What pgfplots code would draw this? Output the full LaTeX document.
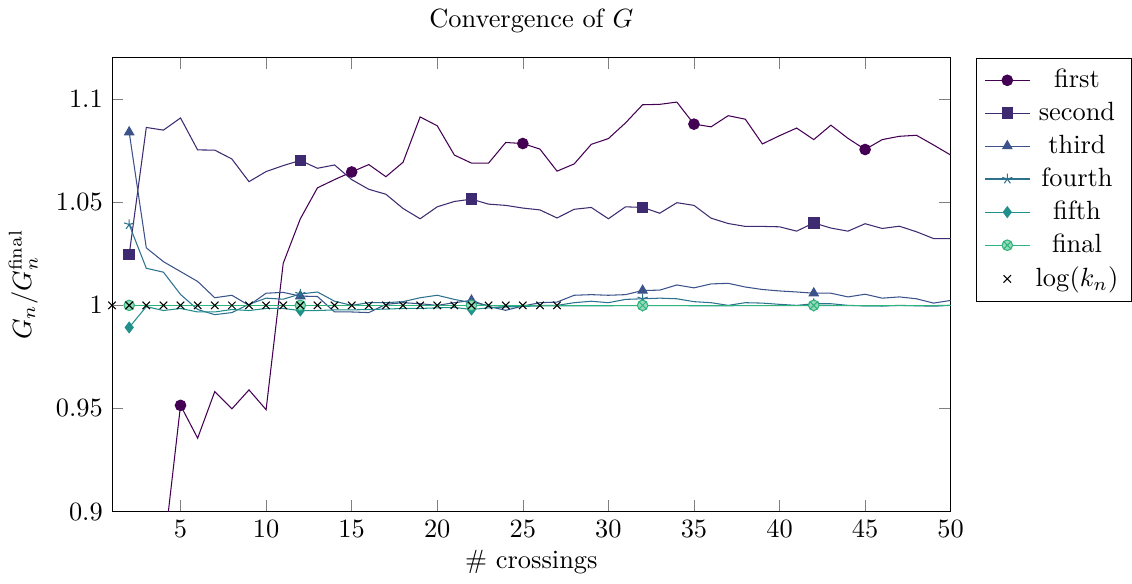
\documentclass[border=0pt]{standalone}
\usepackage{pgfplots}
\pgfplotsset{compat=1.18}
\usepackage{pgfplotstable}
\definecolor{c1}{HTML}{440154}
\definecolor{c2}{HTML}{3E2A70}
\definecolor{c3}{HTML}{3B528B}
\definecolor{c4}{HTML}{2C728E}
\definecolor{c5}{HTML}{21908D}
\definecolor{c6}{HTML}{2FB47C}

\pgfplotstableread{
x y
4 0.879
5 0.9515
6 0.9356
7 0.9582
8 0.9498
9 0.959
10 0.9494
11 1.0204
12 1.042
13 1.057
14 1.061
15 1.0647
16 1.0683
17 1.0624
18 1.0694
19 1.0914
20 1.0871
21 1.0729
22 1.069
23 1.069
24 1.079
25 1.0785
26 1.0758
27 1.0651
28 1.0686
29 1.0781
30 1.0809
31 1.0885
32 1.0973
33 1.0975
34 1.0986
35 1.0879
36 1.0866
37 1.092
38 1.0903
39 1.0783
40 1.0823
41 1.086
42 1.0804
43 1.0874
44 1.081
45 1.0756
46 1.0804
47 1.082
48 1.0825
49 1.0778
50 1.0729
}\first

\pgfplotstableread{
x y
2 1.0246
3 1.0863
4 1.085
5 1.0909
6 1.0754
7 1.0753
8 1.071
9 1.060
10 1.0649
11 1.0678
12 1.0703
13 1.0665
14 1.0681
15 1.061
16 1.0563
17 1.0539
18 1.047
19 1.042
20 1.0478
21 1.0504
22 1.0515
23 1.0491
24 1.0485
25 1.0472
26 1.0463
27 1.0424
28 1.0466
29 1.0475
30 1.042
31 1.0478
32 1.0475
33 1.0447
34 1.0498
35 1.0485
36 1.0423
37 1.0397
38 1.0383
39 1.0383
40 1.0381
41 1.036
42 1.040
43 1.0375
44 1.036
45 1.0396
46 1.0373
47 1.0384
48 1.0357
49 1.0324
50 1.0324
}\second

\pgfplotstableread{
x y
2 1.084
3 1.0279
4 1.0212
5 1.0164
6 1.0116
7 1.0037
8 1.0049
9 1.0
10 1.0059
11 1.0063
12 1.0045
13 1.0043
14 0.9968
15 0.9968
16 0.9965
17 1.0005
18 1.0013
19 1.0008
20 1.0
21 1.0013
22 1.0024
23 0.9995
24 0.9976
25 0.9997
26 1.0013
27 1.0016
28 1.0049
29 1.0052
30 1.0049
31 1.0052
32 1.0072
33 1.0074
34 1.0099
35 1.0085
36 1.0104
37 1.0107
38 1.0089
39 1.0077
40 1.007
41 1.0065
42 1.0059
43 1.0059
44 1.0041
45 1.0054
46 1.0035
47 1.0041
48 1.0032
49 1.0011
50 1.0024
}\third

\pgfplotstableread{
x y
2 1.0392
3 1.018
4 1.0161
5 1.0053
6 0.998
7 0.9955
8 0.9965
9 1.0005
10 1.0035
11 1.003
12 1.0055
13 1.0065
14 1.002
15 1.0
16 1.0013
17 1.0013
18 1.0018
19 1.0037
20 1.0049
21 1.0029
22 1.0013
23 1.0
24 0.9995
25 0.9998
26 1.0
27 1.0
28 1.0013
29 1.002
30 1.0013
31 1.0029
32 1.0032
33 1.0035
34 1.0032
35 1.0018
36 1.0013
37 1.0
38 1.0013
39 1.0011
40 1.0005
41 1.0
42 1.0008
43 1.0008
44 1.0
45 0.9998
46 0.9997
47 1.0
48 0.9998
49 0.9996
50 1.0
}\fourth

\pgfplotstableread{
x y
2 0.9893
3 0.9994
4 0.9975
5 0.9985
6 0.9968
7 0.9968
8 0.998
9 0.9975
10 0.9985
11 0.9985
12 0.9975
13 0.9975
14 0.9978
15 0.9978
16 0.998
17 0.9982
18 0.9985
19 0.9985
20 0.9988
21 0.999
22 0.998
23 0.9988
24 0.9992
25 0.9995
26 0.9997
27 0.9998
28 0.9998
29 0.9998
30 0.9998
31 0.9999
32 0.9999
33 0.9999
34 0.9999
35 0.9998
36 0.9998
37 0.9998
38 0.9999
39 0.9999
40 0.9999
41 0.9999
42 0.9999
43 0.9999
44 0.9999
45 0.9998
46 0.9998
47 0.9999
48 0.9999
49 0.9999
50 1.0
}\fifth

\pgfplotstableread{
x y
2 1.0
3 1.0
4 1.0
5 1.0
6 1.0
7 1.0
8 1.0
9 1.0
10 1.0
11 1.0
12 1.0
13 1.0
14 1.0
15 1.0
16 1.0
17 1.0
18 1.0
19 1.0
20 1.0
21 1.0
22 1.0
23 1.0
24 1.0
25 1.0
26 1.0
27 1.0
28 1.0
29 1.0
30 1.0
31 1.0
32 1.0
33 1.0
34 1.0
35 1.0
36 1.0
37 1.0
38 1.0
39 1.0
40 1.0
41 1.0
42 1.0
43 1.0
44 1.0
45 1.0
46 1.0
47 1.0
48 1.0
49 1.0
50 1.0
}\final

\pgfplotstableread{
x y
1 1.0
2 1.0
3 1.0
4 1.0
5 1.0
6 1.0
7 1.0
8 1.0
9 1.0
10 1.0
11 1.0
12 1.0
13 1.0
14 1.0
15 1.0
16 1.0
17 1.0
18 1.0
19 1.0
20 1.0
21 1.0
22 1.0
23 1.0
24 1.0
25 1.0
26 1.0
27 1.0
}\logk

\begin{document}
\begin{tikzpicture}
\begin{axis}[
  scale only axis,
  width=318pt, height=172pt,
  xmin=1, xmax=50,
  ymin=0.9, ymax=1.12,
  xtick={5,10,...,50},
  ytick={0.9,0.95,1,1.05,1.1},
  title={Convergence of $G$},
  xlabel={\# crossings},
  ylabel={$G_n/G_n^{\mathrm{final}}$},
  xlabel style={yshift=2pt},
  legend style={at={(1.03,1)}, anchor=north west},
]
\addplot[color=c1, mark=*, mark repeat=10, mark phase=1, mark options={solid, fill=c1}] table[x=x,y=y] {\first};
\addlegendentry{first}
\addplot[color=c2, mark=square*, mark repeat=10, mark phase=1, mark options={solid, fill=c2}] table[x=x,y=y] {\second};
\addlegendentry{second}
\addplot[color=c3, mark=triangle*, mark repeat=10, mark phase=1, mark options={solid, fill=c3}] table[x=x,y=y] {\third};
\addlegendentry{third}
\addplot[color=c4, mark=star, mark repeat=10, mark phase=1, mark options={solid}] table[x=x,y=y] {\fourth};
\addlegendentry{fourth}
\addplot[color=c5, mark=diamond*, mark repeat=10, mark phase=1, mark options={solid, fill=c5}] table[x=x,y=y] {\fifth};
\addlegendentry{fifth}
\addplot[color=c6, mark=otimes*, mark repeat=10, mark phase=1, mark options={solid, fill=c6!50!white}] table[x=x,y=y] {\final};
\addlegendentry{final}
\addplot[black, only marks, mark=x] table[x=x,y=y] {\logk};
\addlegendentry{$\log(k_n)$}
\end{axis}
\end{tikzpicture}
\end{document}
